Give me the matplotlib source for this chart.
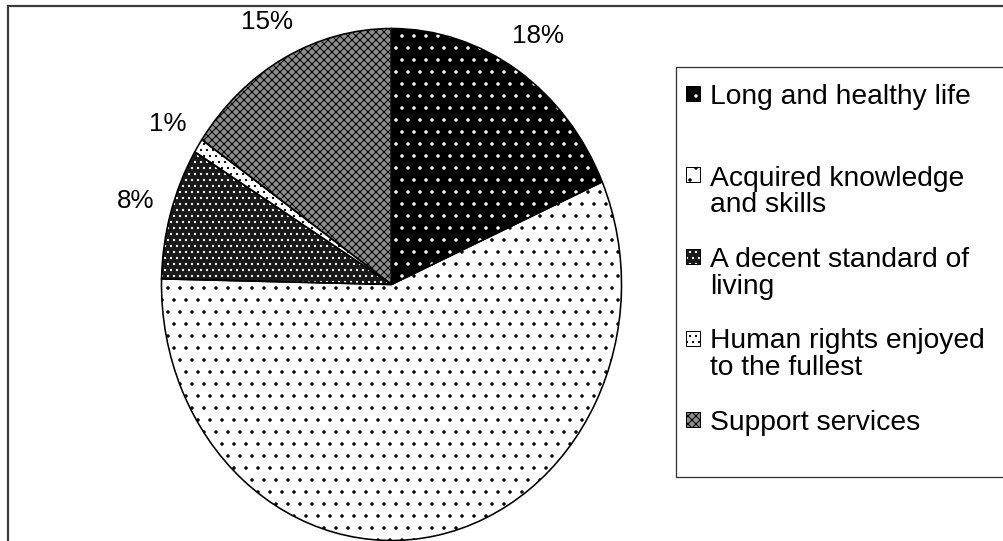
import numpy as np
import matplotlib.pyplot as plt
from matplotlib.patches import Rectangle
from matplotlib.lines import Line2D

# slice shares (percent)
names = ["Long and healthy life",
         "Acquired knowledge\nand skills",
         "A decent standard of\nliving",
         "Human rights enjoyed\nto the fullest",
         "Support services"]
shares = [18.4, 56.8, 8.3, 0.9, 15.4]
show_label = [True, False, True, True, True]

faces = ["black", "white", "#1a1a1a", "white", "#8e8e8e"]
hatch_col = ["white", "black", "white", "black", "black"]
hatches = [".", ".", "..", "..", "xxx"]

W, H = 1003, 541
fig = plt.figure(figsize=(W / 72, H / 72), dpi=72)
plt.rcParams['hatch.linewidth'] = 1.0

# pie is stretched into an ellipse, so use an axes with auto aspect
cx, cy, rx, ry = 391.5, 284.5, 230, 256
ax = fig.add_axes([(cx - rx) / W, 1 - (cy + ry) / H, 2 * rx / W, 2 * ry / H])

w1, _ = ax.pie(shares, startangle=90, counterclock=False, colors=faces,
               wedgeprops=dict(linewidth=0))
for w, h, c in zip(w1, hatches, hatch_col):
    w.set_hatch(h)
    w.set_edgecolor(c)
    w.set_linewidth(0)

labels = [("%.0f%%" % s) if k else "" for s, k in zip(shares, show_label)]
w2, txt = ax.pie(shares, startangle=90, counterclock=False, labels=labels,
                 labeldistance=1.16,
                 wedgeprops=dict(facecolor="none", edgecolor="black", linewidth=1.6),
                 textprops=dict(fontsize=26, family="Liberation Sans"))
for t in txt:
    t.set_horizontalalignment("center")
    t.set_verticalalignment("center")
ax.set_aspect("auto")
ax.set_xlim(-1, 1)
ax.set_ylim(-1, 1)
ax.axis("off")

# outer frame (only top and left show)
fig.add_artist(Line2D([8 / W, 8 / W], [0, 1 - 6 / H], color="#3a3a3a", lw=2.2))
fig.add_artist(Line2D([8 / W, 1], [1 - 6 / H, 1 - 6 / H], color="#3a3a3a", lw=2.2))

# legend box
fig.add_artist(Rectangle((676 / W, 1 - 477 / H), (W - 676 + 5) / W, (477 - 67) / H,
                         facecolor="none", edgecolor="#333333", lw=1.3,
                         transform=fig.transFigure))
top0, step = 85, 81.5
for i, n in enumerate(names):
    ty = top0 + i * step
    fig.add_artist(Rectangle((686 / W, 1 - (ty + 16) / H), 14 / W, 15 / H,
                             facecolor=faces[i], edgecolor=hatch_col[i], hatch=hatches[i],
                             lw=0, transform=fig.transFigure))
    fig.add_artist(Rectangle((686 / W, 1 - (ty + 16) / H), 14 / W, 15 / H,
                             facecolor="none", edgecolor="black", lw=1,
                             transform=fig.transFigure))
    fig.text(710 / W, 1 - (ty - 1) / H, n, fontsize=28.3, family="Liberation Sans",
             va="top", ha="left", linespacing=1.04)

fig.savefig("out.png", dpi=72)
